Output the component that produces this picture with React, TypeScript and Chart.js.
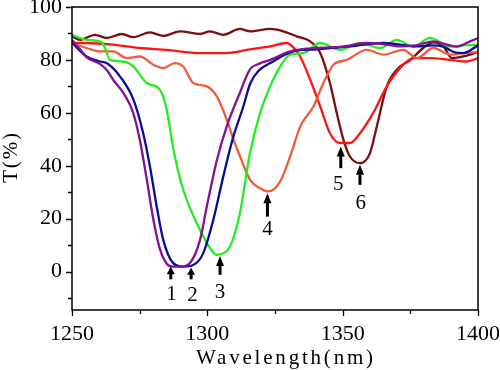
import React, { useEffect, useRef } from "react";
import { Chart, registerables } from "chart.js";
Chart.register(...registerables);

// ---- data ----
const wl1 = [1250, 1253, 1255.4, 1260.3, 1263, 1265.2, 1269, 1272.6, 1275, 1277.6, 1280, 1282.5, 1285, 1287, 1290, 1293.6, 1297.3, 1299.8, 1303.5, 1307.2, 1312, 1315.8, 1319, 1323.2, 1330.6, 1340.4, 1350, 1358.9, 1365, 1371.2, 1377, 1383.6, 1388, 1392.2, 1396, 1400];
const t1 = [87.5, 84, 81, 78.5, 76, 72.5, 67.5, 60, 50, 35, 20, 8.5, 3, 1.9, 1.9, 3.3, 12, 24.6, 42, 55, 67.5, 76.5, 78.5, 80, 83.2, 84.5, 85, 86.4, 86, 85.1, 85.5, 87, 86, 85, 86.5, 88.3];

const wl2 = [1250, 1255.4, 1260, 1262.8, 1267.7, 1272.7, 1276.3, 1278.8, 1281.3, 1283.7, 1287.4, 1291, 1294.8, 1298.5, 1302.2, 1305.9, 1309.6, 1313.3, 1315.8, 1319, 1323.2, 1331.8, 1340.4, 1352.7, 1365, 1377.4, 1383, 1387.2, 1391, 1394.6, 1400];
const t2 = [86.5, 81.3, 79.5, 78.8, 73.8, 65, 52.3, 39.7, 24.6, 12, 3.2, 1.9, 2.5, 7, 19.6, 36, 51, 62.4, 71, 76, 78.8, 83.2, 84, 85.1, 86.4, 85.1, 85.5, 85, 83, 82.6, 85.5];

const wl3 = [1250, 1255.4, 1260.3, 1262, 1264, 1269, 1272.7, 1277.6, 1282.5, 1285, 1287.5, 1290, 1292.4, 1296.1, 1299.9, 1303.5, 1306, 1308.4, 1312, 1315.8, 1319.5, 1323.2, 1326.9, 1330.6, 1335.5, 1341.7, 1349.1, 1356.4, 1363.8, 1370, 1376.1, 1382.3, 1389.7, 1394.6, 1400];
const t3 = [89.5, 87.6, 87, 85, 80, 79.4, 77.5, 71.3, 68.7, 61.2, 46, 34.7, 27.1, 18.3, 10.7, 6.3, 7, 9.5, 22, 45, 60, 70, 77.5, 82, 82.6, 86.4, 83.8, 86.4, 84.5, 87.6, 85, 88.3, 85, 85.5, 85.8];

const wl4 = [1250, 1255.4, 1260.3, 1265.2, 1270.2, 1275.1, 1280, 1283.7, 1288, 1291.1, 1294.8, 1299.8, 1303.5, 1307.2, 1309.7, 1312.1, 1315.8, 1319.5, 1322.5, 1326.9, 1330.6, 1334.3, 1339.2, 1342.9, 1346.6, 1351.5, 1358.9, 1365, 1372.4, 1377.4, 1383.5, 1389.7, 1394.6, 1400];
const t4 = [86.4, 84.5, 83.2, 83.2, 80.7, 81.3, 78.2, 76.9, 78.8, 77.5, 71.3, 70, 66.2, 57.4, 49.8, 43.5, 34.7, 31.5, 30.3, 34, 43.5, 54.8, 62.4, 71.3, 78.2, 80, 83.8, 82, 83.8, 80.7, 84.5, 82, 82.6, 83];

const wl5 = [1250, 1255.4, 1265.2, 1275.1, 1285, 1297.3, 1307.2, 1315.8, 1323.2, 1329.3, 1331.5, 1334.3, 1338, 1341.7, 1345.3, 1349, 1352.7, 1356.4, 1361.3, 1366.3, 1371.2, 1376.1, 1382.3, 1389.7, 1395.8, 1400];
const t5 = [86.4, 86.4, 85.8, 84.5, 83.8, 82.6, 82.6, 84, 85.1, 86.4, 85, 81.3, 72.5, 62.4, 52.3, 48.6, 48.6, 52.3, 60, 70, 76.9, 80.7, 80.7, 80, 79.4, 80.7];

const wl6 = [1250, 1253, 1258.5, 1262.8, 1268.4, 1272.7, 1278.8, 1283.7, 1290, 1297.3, 1301, 1305.9, 1312, 1315.8, 1323.2, 1328.1, 1333, 1338, 1341.7, 1345.3, 1347.8, 1350.3, 1352.7, 1356.4, 1360.1, 1362.6, 1366.3, 1370, 1375, 1379.8, 1383.5, 1387.3, 1390.3, 1394.6, 1400];
const t6 = [88.9, 87.6, 89.5, 88.3, 89.8, 88.6, 90.4, 89.1, 90.8, 89.8, 90.8, 89.5, 91.7, 90.8, 91.7, 90.8, 88.9, 87, 82.6, 71.3, 60, 49.8, 43.5, 41, 44.8, 54.8, 70, 76.3, 80, 84.5, 86.6, 85, 80.7, 81.3, 83];

const seriesX = [wl1, wl2, wl3, wl4, wl5, wl6];
const seriesY = [t1, t2, t3, t4, t5, t6];
const seriesColors = ["#860f98", "#0c0c92", "#22ee22", "#ee5c3c", "#ff1414", "#7c0e0e"];

const arrowX = [1286.5, 1294, 1304.7, 1322.2, 1349.3, 1356.4];
const arrowTip = [1.9, 1.5, 5.9, 29.6, 47.3, 40.4];
const arrowBase = [-2.9, -2.9, -1.2, 20.8, 39.1, 32.8];
const peakLabels = ["1", "2", "3", "4", "5", "6"];
const labelX = [1286.8, 1294.5, 1304.7, 1322.2, 1348.4, 1356.7];
const labelY = [-8.8, -9.1, -7.9, 15.8, 32.8, 25.6];

const xMajorTicks = [1250, 1300, 1350, 1400];
const xMinorTicks = [1275, 1325, 1375];
const yMajorTicks = [0, 20, 40, 60, 80, 100];
const yMinorTicks = [-10, 10, 30, 50, 70, 90];

const FONT = "'Liberation Serif', 'DejaVu Serif', serif";

const decorPlugin = {
  id: "decor",
  afterDraw(chart: any) {
    const ctx = chart.ctx as CanvasRenderingContext2D;
    const { left, right, top, bottom } = chart.chartArea;
    const xs = chart.scales.x;
    const ys = chart.scales.y;
    ctx.save();
    // frame
    ctx.strokeStyle = "#000";
    ctx.lineWidth = 1.5;
    ctx.strokeRect(left, top, right - left, bottom - top);
    // ticks
    ctx.lineWidth = 1.3;
    ctx.beginPath();
    xMajorTicks.forEach((v) => {
      const p = Math.round(xs.getPixelForValue(v)) + 0.5;
      ctx.moveTo(p, bottom);
      ctx.lineTo(p, bottom + 6);
    });
    xMinorTicks.forEach((v) => {
      const p = Math.round(xs.getPixelForValue(v)) + 0.5;
      ctx.moveTo(p, bottom);
      ctx.lineTo(p, bottom + 4);
    });
    yMajorTicks.forEach((v) => {
      const p = Math.round(ys.getPixelForValue(v)) + 0.5;
      ctx.moveTo(left, p);
      ctx.lineTo(left - 6, p);
    });
    yMinorTicks.forEach((v) => {
      const p = Math.round(ys.getPixelForValue(v)) + 0.5;
      ctx.moveTo(left, p);
      ctx.lineTo(left - 4, p);
    });
    ctx.stroke();
    // arrows
    ctx.fillStyle = "#000";
    arrowX.forEach((v, i) => {
      const px = xs.getPixelForValue(v);
      const tip = ys.getPixelForValue(arrowTip[i]);
      const base = ys.getPixelForValue(arrowBase[i]);
      const len = base - tip;
      const headH = Math.min(10, len * 0.6);
      ctx.beginPath();
      ctx.moveTo(px, tip);
      ctx.lineTo(px - 4, tip + headH);
      ctx.lineTo(px + 4, tip + headH);
      ctx.closePath();
      ctx.fill();
      ctx.fillRect(px - 1.5, tip + headH - 1, 3, base - tip - headH + 1);
    });
    // peak labels
    ctx.font = `21px ${FONT}`;
    ctx.textAlign = "center";
    ctx.textBaseline = "middle";
    peakLabels.forEach((t, i) => {
      ctx.fillText(t, xs.getPixelForValue(labelX[i]), ys.getPixelForValue(labelY[i]));
    });
    // axis titles
    ctx.font = `21px ${FONT}`;
    (ctx as any).letterSpacing = "2.8px";
    ctx.textAlign = "center";
    ctx.textBaseline = "alphabetic";
    ctx.fillText("Wavelength(nm)", 286, 364);
    (ctx as any).letterSpacing = "1.8px";
    ctx.translate(11, 157);
    ctx.rotate(-Math.PI / 2);
    ctx.textBaseline = "middle";
    ctx.fillText("T(%)", 0, 0);
    ctx.restore();
  },
};

export default function App() {
  const ref = useRef<HTMLCanvasElement>(null);
  useEffect(() => {
    if (!ref.current) return;
    const datasets = seriesX.map((xsArr, i) => ({
      data: xsArr.map((x, j) => ({ x, y: seriesY[i][j] })),
      borderColor: seriesColors[i],
      borderWidth: 2.3,
      pointRadius: 0,
      fill: false,
      cubicInterpolationMode: "monotone" as const,
    }));
    const chart = new Chart(ref.current, {
      type: "line",
      data: { datasets },
      options: {
        animation: false,
        responsive: false,
        layout: { padding: { top: 7, right: 22, left: 0, bottom: 0 } },
        plugins: { legend: { display: false }, tooltip: { enabled: false } },
        scales: {
          x: {
            type: "linear",
            min: 1250,
            max: 1400,
            afterBuildTicks: (s: any) => {
              s.ticks = xMajorTicks.map((v) => ({ value: v }));
            },
            afterFit: (s: any) => {
              s.height = 60;
              s.paddingLeft = 0;
              s.paddingRight = 0;
            },
            ticks: {
              font: { family: FONT, size: 22 },
              color: "#000",
              padding: 11,
              maxRotation: 0,
              autoSkip: false,
              callback: (v: any) => String(v),
            },
            grid: { drawOnChartArea: false, drawTicks: false },
            border: { display: false },
          },
          y: {
            type: "linear",
            min: -14.5,
            max: 100,
            afterBuildTicks: (s: any) => {
              s.ticks = yMajorTicks.map((v) => ({ value: v }));
            },
            afterFit: (s: any) => {
              s.width = 72;
              s.paddingTop = 0;
              s.paddingBottom = 0;
            },
            ticks: {
              font: { family: FONT, size: 22 },
              color: "#000",
              padding: 10,
              autoSkip: false,
              callback: (v: any) => String(v),
            },
            grid: { drawOnChartArea: false, drawTicks: false },
            border: { display: false },
          },
        },
      },
      plugins: [decorPlugin],
    });
    return () => chart.destroy();
  }, []);
  return (
    <div style={{ position: "absolute", left: 0, top: 0, width: 500, height: 370, background: "#fff" }}>
      <canvas ref={ref} width={500} height={370} />
    </div>
  );
}
